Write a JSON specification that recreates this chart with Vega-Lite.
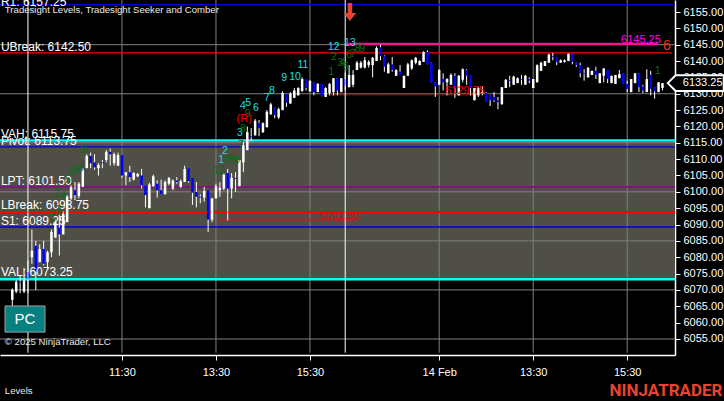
{"$schema":"https://vega.github.io/schema/vega-lite/v6.json","width":675,"height":355,"autosize":"none","padding":{"left":0,"top":0,"right":49,"bottom":46},"background":"#000000","view":{"stroke":null},"config":{"font":"Liberation Sans","scale":{"continuousPadding":0}},
"datasets":{
"band":[{"a":-3.14,"e":169.2,"top":6115.75,"bottom":6073.25}],
"gridH":[{"p":6145,"a":-3.14,"e":169.2},{"p":6130,"a":-3.14,"e":169.2},{"p":6115,"a":-3.14,"e":169.2},{"p":6100,"a":-3.14,"e":169.2},{"p":6085,"a":-3.14,"e":169.2},{"p":6070,"a":-3.14,"e":169.2},{"p":6055,"a":-3.14,"e":169.2}],
"gridV":[{"b":28,"top":6158.67,"bottom":6050.8},{"b":52,"top":6158.67,"bottom":6050.8},{"b":76,"top":6158.67,"bottom":6050.8},{"b":109,"top":6158.67,"bottom":6050.8},{"b":133,"top":6158.67,"bottom":6050.8},{"b":157,"top":6158.67,"bottom":6050.8}],
"session":[{"b":4,"top":6158.67,"bottom":6050.8},{"b":85,"top":6158.67,"bottom":6050.8}],
"levels":[{"level":"R1","p":6157.25,"a":-3.14,"e":169.2},{"level":"UBreak","p":6142.5,"a":-3.14,"e":168.4},{"level":"Pivot","p":6113.75,"a":-3.14,"e":169.2},{"level":"LPT","p":6101.5,"a":-3.14,"e":169.2},{"level":"S1","p":6089.25,"a":-3.14,"e":169.2}],
"thick":[{"level":"VAH","p":6115.75,"a":-3.14,"e":169.2},{"level":"VAL","p":6073.25,"a":-3.14,"e":169.2},{"level":"LBreak","p":6093.75,"a":-3.14,"e":169.2},{"level":"High","p":6145.25,"a":85.5,"e":164.8},{"level":"Low","p":6091.5,"a":52.3,"e":88}],
"dotted":[{"p":6129.75,"a":81.3,"e":119}],
"bars":[
{"b":0,"o":6067,"h":6070.5,"l":6065,"c":6070},{"b":1,"o":6069.5,"h":6073,"l":6069,"c":6072.5},{"b":2,"o":6072.5,"h":6074.5,"l":6069,"c":6072.25},{"b":3,"o":6069.5,"h":6076.75,"l":6069,"c":6073},{"b":4,"o":6075.5,"h":6079,"l":6069,"c":6073.25},{"b":5,"o":6080,"h":6088.5,"l":6078,"c":6082},{"b":6,"o":6083.5,"h":6085,"l":6070,"c":6075.5},{"b":7,"o":6078.5,"h":6084,"l":6078.5,"c":6082.5},{"b":8,"o":6082.5,"h":6085,"l":6077.5,"c":6078},{"b":9,"o":6078.5,"h":6082,"l":6076.5,"c":6081.5},
{"b":10,"o":6081.5,"h":6088.5,"l":6080,"c":6087.75},{"b":11,"o":6086,"h":6091.5,"l":6086,"c":6090.75},{"b":12,"o":6089,"h":6093,"l":6080.5,"c":6087},{"b":13,"o":6087,"h":6094,"l":6087,"c":6093.25},{"b":14,"o":6090.75,"h":6099,"l":6090.75,"c":6098.5},{"b":15,"o":6098,"h":6102,"l":6097.5,"c":6101.5},{"b":16,"o":6100.5,"h":6103,"l":6097.5,"c":6099},{"b":17,"o":6098.75,"h":6103,"l":6098,"c":6102.5},{"b":18,"o":6101.5,"h":6107.25,"l":6101.5,"c":6106.75},{"b":19,"o":6107.25,"h":6111.5,"l":6107.25,"c":6111},
{"b":20,"o":6111,"h":6112,"l":6107.25,"c":6108.75},{"b":21,"o":6109,"h":6111.5,"l":6106.75,"c":6107.5},{"b":22,"o":6107.25,"h":6108.75,"l":6105,"c":6108.25},{"b":23,"o":6109,"h":6109.75,"l":6107.25,"c":6108.75},{"b":24,"o":6109.75,"h":6112.75,"l":6109,"c":6112.25},{"b":25,"o":6112.25,"h":6113.25,"l":6108,"c":6111.5},{"b":26,"o":6108.75,"h":6112,"l":6108,"c":6111.5},{"b":27,"o":6108,"h":6112,"l":6108,"c":6111.25},{"b":28,"o":6111.25,"h":6111.25,"l":6104.25,"c":6105},{"b":29,"o":6105,"h":6106,"l":6102,"c":6106},
{"b":30,"o":6106,"h":6108,"l":6103,"c":6104.5},{"b":31,"o":6103.75,"h":6106,"l":6103.5,"c":6105.75},{"b":32,"o":6104.75,"h":6105.75,"l":6104.5,"c":6105.5},{"b":33,"o":6105,"h":6107,"l":6101,"c":6102},{"b":34,"o":6102,"h":6102,"l":6095.25,"c":6099},{"b":35,"o":6095,"h":6102.75,"l":6095,"c":6102.25},{"b":36,"o":6101.75,"h":6105.25,"l":6101.5,"c":6104.75},{"b":37,"o":6102.5,"h":6103.5,"l":6098.25,"c":6100.5},{"b":38,"o":6100.5,"h":6103.75,"l":6099.25,"c":6099.25},{"b":39,"o":6099.25,"h":6103.5,"l":6099.25,"c":6103},
{"b":40,"o":6102.5,"h":6104.5,"l":6102,"c":6104.25},{"b":41,"o":6101,"h":6103.75,"l":6100.5,"c":6103.5},{"b":42,"o":6103.5,"h":6104.5,"l":6102.5,"c":6103},{"b":43,"o":6101.5,"h":6103.75,"l":6101.25,"c":6103.25},{"b":44,"o":6103,"h":6108,"l":6103,"c":6107},{"b":45,"o":6107.25,"h":6107.25,"l":6102.75,"c":6103.25},{"b":46,"o":6104.25,"h":6104.25,"l":6096,"c":6099.75},{"b":47,"o":6100,"h":6103,"l":6095.25,"c":6098.5},{"b":48,"o":6098.5,"h":6099.25,"l":6096.5,"c":6098.25},{"b":49,"o":6098.25,"h":6101.5,"l":6097,"c":6100.25},
{"b":50,"o":6100.5,"h":6100.5,"l":6087.75,"c":6091.5},{"b":51,"o":6091.5,"h":6098,"l":6090.75,"c":6098},{"b":52,"o":6098,"h":6102.5,"l":6098,"c":6101.75},{"b":53,"o":6100.5,"h":6103,"l":6098.5,"c":6101.25},{"b":54,"o":6101,"h":6105.75,"l":6100.5,"c":6105.25},{"b":55,"o":6105.75,"h":6107,"l":6091.25,"c":6101},{"b":56,"o":6101,"h":6105.75,"l":6098,"c":6104.25},{"b":57,"o":6104.25,"h":6106,"l":6100,"c":6104},{"b":58,"o":6101.75,"h":6109.75,"l":6101.75,"c":6109.75},{"b":59,"o":6109,"h":6115.25,"l":6106,"c":6114.25},
{"b":60,"o":6112.75,"h":6120,"l":6112.75,"c":6118.25},{"b":61,"o":6117,"h":6119.5,"l":6115.5,"c":6116.75},{"b":62,"o":6117.25,"h":6122.25,"l":6117.25,"c":6121.75},{"b":63,"o":6121,"h":6122,"l":6117,"c":6119.5},{"b":64,"o":6118.25,"h":6121.25,"l":6118,"c":6121},{"b":65,"o":6119.75,"h":6125,"l":6119.75,"c":6124.5},{"b":66,"o":6123.75,"h":6127.25,"l":6123.5,"c":6126.75},{"b":67,"o":6125.75,"h":6125.75,"l":6122.5,"c":6123.5},{"b":68,"o":6122.75,"h":6125.75,"l":6122.25,"c":6125.25},{"b":69,"o":6125,"h":6130.75,"l":6125,"c":6130.25},
{"b":70,"o":6130,"h":6130,"l":6126,"c":6127.25},{"b":71,"o":6127,"h":6130.5,"l":6127,"c":6130},{"b":72,"o":6128.75,"h":6131.75,"l":6128.75,"c":6131},{"b":73,"o":6129.5,"h":6132,"l":6129.5,"c":6131.75},{"b":74,"o":6130.75,"h":6135,"l":6130.75,"c":6134.5},{"b":75,"o":6134.5,"h":6134.5,"l":6131,"c":6131.75},{"b":76,"o":6130.75,"h":6134,"l":6130.5,"c":6134},{"b":77,"o":6133.5,"h":6133.5,"l":6129.5,"c":6130.5},{"b":78,"o":6130.5,"h":6133.25,"l":6130.5,"c":6133},{"b":79,"o":6133,"h":6133,"l":6129.25,"c":6129.25},
{"b":80,"o":6129,"h":6132,"l":6129,"c":6131.75},{"b":81,"o":6130.25,"h":6133.25,"l":6129.5,"c":6133},{"b":82,"o":6130.5,"h":6134.75,"l":6129.5,"c":6134.75},{"b":83,"o":6134.75,"h":6134.75,"l":6129.5,"c":6131},{"b":84,"o":6130.5,"h":6134.75,"l":6130.5,"c":6134.75},{"b":85,"o":6134.5,"h":6136.5,"l":6131,"c":6132.5},{"b":86,"o":6132,"h":6138.75,"l":6132,"c":6135.75},{"b":87,"o":6132.75,"h":6137.25,"l":6132,"c":6135.75},{"b":88,"o":6137.25,"h":6140,"l":6137.25,"c":6139.5},{"b":89,"o":6138,"h":6140,"l":6137.75,"c":6139.5},
{"b":90,"o":6138,"h":6141.25,"l":6137.75,"c":6140.25},{"b":91,"o":6138.75,"h":6140.25,"l":6138,"c":6139.75},{"b":92,"o":6138.75,"h":6141.25,"l":6135,"c":6141},{"b":93,"o":6140,"h":6144.5,"l":6140,"c":6144},{"b":94,"o":6144.25,"h":6145,"l":6140.25,"c":6141.5},{"b":95,"o":6141.5,"h":6141.75,"l":6136.75,"c":6138.25},{"b":96,"o":6136.25,"h":6139.5,"l":6136.25,"c":6139},{"b":97,"o":6139,"h":6141.25,"l":6136.75,"c":6137.25},{"b":98,"o":6135.5,"h":6137.5,"l":6135.5,"c":6137.25},{"b":99,"o":6136.75,"h":6138.75,"l":6135.75,"c":6135.75},
{"b":100,"o":6131.75,"h":6135.5,"l":6131.75,"c":6135.5},{"b":101,"o":6135.5,"h":6139.5,"l":6135.5,"c":6139},{"b":102,"o":6137.75,"h":6140.5,"l":6137.25,"c":6140.25},{"b":103,"o":6139.5,"h":6141.25,"l":6139,"c":6141},{"b":104,"o":6138.75,"h":6140.25,"l":6138.75,"c":6140},{"b":105,"o":6139.75,"h":6143,"l":6139.75,"c":6142.75},{"b":106,"o":6142.75,"h":6143.25,"l":6139,"c":6139},{"b":107,"o":6139.5,"h":6139.5,"l":6133.5,"c":6133.5},{"b":108,"o":6133.5,"h":6133.5,"l":6129,"c":6132.25},{"b":109,"o":6132.75,"h":6137.5,"l":6132.75,"c":6137.25},
{"b":110,"o":6134.5,"h":6136.25,"l":6131,"c":6133.5},{"b":111,"o":6133.5,"h":6134.75,"l":6129.5,"c":6134.5},{"b":112,"o":6132.75,"h":6136.25,"l":6132.75,"c":6135.75},{"b":113,"o":6135.5,"h":6136.25,"l":6128.75,"c":6131.75},{"b":114,"o":6129.5,"h":6135.75,"l":6129.5,"c":6135.5},{"b":115,"o":6134.25,"h":6137.75,"l":6133.5,"c":6137.5},{"b":116,"o":6137.25,"h":6137.5,"l":6132.75,"c":6135.5},{"b":117,"o":6135.75,"h":6135.75,"l":6129.5,"c":6131.75},{"b":118,"o":6128,"h":6131.75,"l":6128,"c":6131.75},{"b":119,"o":6129.5,"h":6132,"l":6129,"c":6131.75},
{"b":120,"o":6130,"h":6132.25,"l":6129.5,"c":6130.5},{"b":121,"o":6130.25,"h":6130.5,"l":6127.5,"c":6127.5},{"b":122,"o":6129.5,"h":6129.5,"l":6126.25,"c":6128},{"b":123,"o":6129,"h":6130.5,"l":6127.5,"c":6128},{"b":124,"o":6128,"h":6129,"l":6125.25,"c":6127.5},{"b":125,"o":6126.75,"h":6132,"l":6126.75,"c":6132},{"b":126,"o":6131.75,"h":6134.5,"l":6131.75,"c":6134.25},{"b":127,"o":6134.25,"h":6135.5,"l":6132,"c":6134},{"b":128,"o":6132.75,"h":6135.5,"l":6132.75,"c":6135.25},{"b":129,"o":6133.25,"h":6135,"l":6133.25,"c":6134.75},
{"b":130,"o":6134.5,"h":6135.75,"l":6132.75,"c":6134.25},{"b":131,"o":6132.75,"h":6135.75,"l":6132.75,"c":6135.5},{"b":132,"o":6134.5,"h":6135,"l":6133.25,"c":6134},{"b":133,"o":6131.75,"h":6134.5,"l":6131.75,"c":6134.5},{"b":134,"o":6133.5,"h":6139,"l":6133.5,"c":6138.75},{"b":135,"o":6137,"h":6139.75,"l":6137,"c":6139.5},{"b":136,"o":6138.5,"h":6140,"l":6138.5,"c":6140},{"b":137,"o":6139.5,"h":6142.25,"l":6139.5,"c":6142},{"b":138,"o":6141.5,"h":6142.5,"l":6140.25,"c":6141.25},{"b":139,"o":6141.25,"h":6141.25,"l":6138.75,"c":6139.75},
{"b":140,"o":6139.5,"h":6140.5,"l":6139.5,"c":6140.25},{"b":141,"o":6139.75,"h":6140.5,"l":6139.5,"c":6140.25},{"b":142,"o":6140,"h":6142.25,"l":6140,"c":6142.25},{"b":143,"o":6142.25,"h":6142.25,"l":6139,"c":6139.75},{"b":144,"o":6139.5,"h":6139.5,"l":6138.25,"c":6138.75},{"b":145,"o":6138.75,"h":6139.5,"l":6135,"c":6136.25},{"b":146,"o":6136.25,"h":6137.5,"l":6134,"c":6136},{"b":147,"o":6135,"h":6138,"l":6135,"c":6138},{"b":148,"o":6135.75,"h":6137,"l":6135.75,"c":6137},{"b":149,"o":6137,"h":6138.25,"l":6134.5,"c":6135.75},
{"b":150,"o":6133.25,"h":6136.25,"l":6133.25,"c":6136.25},{"b":151,"o":6135.5,"h":6137.75,"l":6133.5,"c":6137.75},{"b":152,"o":6137.25,"h":6137.25,"l":6133.25,"c":6134.5},{"b":153,"o":6133.25,"h":6135.5,"l":6133.25,"c":6135.5},{"b":154,"o":6133,"h":6135.75,"l":6133,"c":6135.75},{"b":155,"o":6134.75,"h":6137.25,"l":6134.75,"c":6136},{"b":156,"o":6136.25,"h":6136.25,"l":6133,"c":6133},{"b":157,"o":6133,"h":6134,"l":6130.5,"c":6131.5},{"b":158,"o":6130.5,"h":6134.5,"l":6130.5,"c":6134.5},{"b":159,"o":6133.25,"h":6136.25,"l":6133.25,"c":6136.25},
{"b":160,"o":6136.25,"h":6136.25,"l":6130.5,"c":6132},{"b":161,"o":6132.25,"h":6132.75,"l":6130.25,"c":6131},{"b":162,"o":6130.5,"h":6137.5,"l":6130.5,"c":6134.5},{"b":163,"o":6135.75,"h":6137,"l":6129.5,"c":6131.5},{"b":164,"o":6132,"h":6132,"l":6128.5,"c":6130.75},{"b":165,"o":6130.5,"h":6133.5,"l":6130.5,"c":6133.5},{"b":166,"o":6131.75,"h":6133.25,"l":6131,"c":6133.25}],
"white":[{"t":"R1: 6157.25","b":-2.9,"p":6158.2},{"t":"UBreak: 6142.50","b":-2.9,"p":6144.3},{"t":"VAH: 6115.75","b":-2.9,"p":6117.7},{"t":"Pivot: 6113.75","b":-2.9,"p":6115.5},{"t":"LPT: 6101.50","b":-2.9,"p":6103.3},{"t":"LBreak: 6093.75","b":-2.9,"p":6096},{"t":"S1: 6089.25","b":-2.9,"p":6091},{"t":"VAL: 6073.25","b":-2.9,"p":6075.5}],
"small":[{"t":"Tradesight Levels, Tradesight Seeker and Comber","b":-1.9,"p":6155.5},{"t":"© 2025 NinjaTrader, LLC","b":-1.9,"p":6054.1},{"t":"Levels","b":-1.9,"p":6039.1}],
"cyan":[{"t":"1","b":53.3,"p":6109.7},{"t":"2","b":54.3,"p":6112.5},{"t":"3","b":58.1,"p":6118},{"t":"4","b":58.9,"p":6126.3},{"t":"5","b":60.2,"p":6127.2},{"t":"6","b":62.2,"p":6125.6},{"t":"7","b":65,"p":6128.7},{"t":"8","b":66.3,"p":6130.8},{"t":"9","b":69.4,"p":6134.8},{"t":"10","b":72.2,"p":6135.1},{"t":"11","b":74.2,"p":6138.8},{"t":"12","b":82.1,"p":6144.3},{"t":"13","b":86.2,"p":6145.5}],
"green":[{"t":"9","b":18.3,"p":6112.8},{"t":"6","b":15.2,"p":6106},{"t":"7","b":16.3,"p":6106.4},{"t":"8","b":17.3,"p":6107},{"t":"5","b":14.2,"p":6103.5},{"t":"2","b":11.4,"p":6099.3},{"t":"4","b":12.9,"p":6098.7},{"t":"3","b":11.9,"p":6094.5},{"t":"1","b":10.4,"p":6092},{"t":"12","b":52.8,"p":6106.4},{"t":"3","b":54.6,"p":6109.7},{"t":"4","b":55.6,"p":6110.3},{"t":"5","b":56.4,"p":6109.7},{"t":"6","b":57.4,"p":6109.7},{"t":"7","b":58.4,"p":6114.3},{"t":"8","b":58.9,"p":6119.2},{"t":"9","b":60.1,"p":6123.8},{"t":"1","b":81.4,"p":6136.7},{"t":"2","b":82.1,"p":6141.2},{"t":"3","b":83.7,"p":6139.4},{"t":"4","b":84.4,"p":6139.4},{"t":"5","b":85.2,"p":6138.2},{"t":"6","b":86,"p":6141.9},{"t":"7","b":87,"p":6142.2},{"t":"8","b":88.2,"p":6143.7},{"t":"9","b":89.3,"p":6143.7},{"t":"1","b":164.8,"p":6137}],
"red":[{"t":"(R)","b":59.2,"p":6122.3},{"t":"6129.75","b":115.6,"p":6130.8},{"t":"6091.50","b":83.7,"p":6092.6}],
"pc":[{"a":-1.86,"e":8.35,"top":6065.1,"bottom":6057.1,"b":3.2,"p":6061.1,"t":"PC"}],
"marker":[{"b":174.5,"p":6133.25,"t":"6133.25"}],
"arrow":[{"b":86.2,"p":6155}]
},
"encoding":{"x":{"field":"b","type":"quantitative","title":null,"scale":{"domain":[-3.14,169.2],"nice":false,"zero":false},"axis":{"orient":"bottom","values":[28,52,76,109,133,157],"labelExpr":"{28:'11:30',52:'13:30',76:'15:30',109:'14 Feb',133:'13:30',157:'15:30'}[datum.value]","grid":false,"domainColor":"#ffffff","domainWidth":1.5,"tickColor":"#ffffff","tickSize":5,"labelColor":"#ffffff","labelFontSize":11,"labelFont":"Liberation Sans","labelPadding":6,"labelOverlap":false,"labelFlush":false,"tickCount":12}},"y":{"field":"p","type":"quantitative","title":null,"scale":{"domain":[6050.1,6158.67],"nice":false,"zero":false},"axis":{"orient":"right","values":[6055,6060,6065,6070,6075,6080,6085,6090,6095,6100,6105,6110,6115,6120,6125,6130,6135,6140,6145,6150,6155],"tickCount":42,"format":".2f","grid":false,"domainColor":"#ffffff","domainWidth":1.5,"tickColor":"#ffffff","tickSize":5,"labelColor":"#ffffff","labelFontSize":11,"labelFont":"Liberation Sans","labelPadding":3,"labelOverlap":false}}},
"layer":[
{"data":{"name":"band"},"mark":{"type":"rect","color":"#4f4e47"},"encoding":{"x":{"field":"a","type":"quantitative","scale":{"domain":[-3.14,169.2],"nice":false,"zero":false},"title":null},"x2":{"field":"e"},"y":{"field":"top","type":"quantitative","scale":{"domain":[6050.1,6158.67],"nice":false,"zero":false},"title":null},"y2":{"field":"bottom"}}},
{"data":{"name":"gridH"},"mark":{"type":"rule","color":"#808080","strokeWidth":1},"encoding":{"x":{"field":"a","type":"quantitative","scale":{"domain":[-3.14,169.2],"nice":false,"zero":false},"title":null},"x2":{"field":"e"},"y":{"field":"p","type":"quantitative"}}},
{"data":{"name":"gridV"},"mark":{"type":"rule","color":"#808080","strokeWidth":1},"encoding":{"x":{"field":"b","type":"quantitative"},"y":{"field":"top","type":"quantitative","scale":{"domain":[6050.1,6158.67],"nice":false,"zero":false},"title":null},"y2":{"field":"bottom"}}},
{"data":{"name":"levels"},"mark":{"type":"rule","strokeWidth":1.4},"encoding":{"x":{"field":"a","type":"quantitative","scale":{"domain":[-3.14,169.2],"nice":false,"zero":false},"title":null},"x2":{"field":"e"},"y":{"field":"p","type":"quantitative"},"color":{"field":"level","type":"nominal","legend":null,"scale":{"domain":["R1","UBreak","VAH","Pivot","LPT","LBreak","S1","VAL","High","Low"],"range":["#0000e0","#ff0000","#00ffff","#0000e0","#900090","#ff0000","#0000e0","#00ffff","#ff1090","#a52a2a"]}}}},
{"data":{"name":"thick"},"mark":{"type":"rule","strokeWidth":2.4},"encoding":{"x":{"field":"a","type":"quantitative","scale":{"domain":[-3.14,169.2],"nice":false,"zero":false},"title":null},"x2":{"field":"e"},"y":{"field":"p","type":"quantitative"},"color":{"field":"level","type":"nominal","legend":null,"scale":{"domain":["R1","UBreak","VAH","Pivot","LPT","LBreak","S1","VAL","High","Low"],"range":["#0000e0","#ff0000","#00ffff","#0000e0","#900090","#ff0000","#0000e0","#00ffff","#ff1090","#a52a2a"]}}}},
{"data":{"name":"dotted"},"mark":{"type":"rule","strokeWidth":2,"color":"#8b1a1a","strokeDash":[2,1]},"encoding":{"x":{"field":"a","type":"quantitative","scale":{"domain":[-3.14,169.2],"nice":false,"zero":false},"title":null},"x2":{"field":"e"},"y":{"field":"p","type":"quantitative"}}},
{"data":{"name":"bars"},"mark":{"type":"rule","color":"#ffffff","strokeWidth":1},"encoding":{"y":{"field":"h","type":"quantitative","scale":{"domain":[6050.1,6158.67],"nice":false,"zero":false},"title":null},"y2":{"field":"l"}}},
{"data":{"name":"bars"},"mark":{"type":"bar","size":2.5,"orient":"vertical"},"encoding":{"y":{"field":"o","type":"quantitative","scale":{"domain":[6050.1,6158.67],"nice":false,"zero":false},"title":null},"y2":{"field":"c"},"color":{"condition":{"test":"datum.c>=datum.o","value":"#ffffff"},"value":"#0000ff"}}},
{"data":{"name":"session"},"mark":{"type":"rule","color":"#ffffff","strokeWidth":1},"encoding":{"x":{"field":"b","type":"quantitative"},"y":{"field":"top","type":"quantitative","scale":{"domain":[6050.1,6158.67],"nice":false,"zero":false},"title":null},"y2":{"field":"bottom"}}},
{"data":{"name":"white"},"mark":{"type":"text","align":"left","baseline":"middle","color":"#ffffff","fontSize":12},"encoding":{"text":{"field":"t"}}},
{"data":{"name":"small"},"mark":{"type":"text","align":"left","baseline":"middle","color":"#e8e8e8","fontSize":9.6},"encoding":{"text":{"field":"t"}}},
{"data":{"name":"cyan"},"mark":{"type":"text","align":"center","baseline":"middle","color":"#19dfe6","fontSize":10.5},"encoding":{"text":{"field":"t"}}},
{"data":{"name":"green"},"mark":{"type":"text","align":"center","baseline":"middle","color":"#0a7010","fontSize":10.5},"encoding":{"text":{"field":"t"}}},
{"data":{"name":"red"},"mark":{"type":"text","align":"center","baseline":"middle","color":"#f00000","fontSize":11},"encoding":{"text":{"field":"t"}}},
{"data":{"values":[{"t":"6145.25","b":160.5,"p":6146.4}]},"mark":{"type":"text","align":"center","baseline":"middle","color":"#ff00ff","fontSize":11},"encoding":{"text":{"field":"t"}}},
{"data":{"values":[{"t":"6","b":167.1,"p":6144.6}]},"mark":{"type":"text","align":"center","baseline":"middle","color":"#f03010","fontSize":14},"encoding":{"text":{"field":"t"}}},
{"data":{"name":"pc"},"mark":{"type":"rect","color":"#078080","stroke":"#a0a0a0","strokeWidth":1},"encoding":{"x":{"field":"a","type":"quantitative","scale":{"domain":[-3.14,169.2],"nice":false,"zero":false},"title":null},"x2":{"field":"e"},"y":{"field":"top","type":"quantitative","scale":{"domain":[6050.1,6158.67],"nice":false,"zero":false},"title":null},"y2":{"field":"bottom"}}},
{"data":{"name":"pc"},"mark":{"type":"text","align":"center","baseline":"middle","color":"#ffffff","fontSize":15},"encoding":{"text":{"field":"t"}}},
{"data":{"name":"arrow"},"mark":{"type":"point","shape":"M -0.25 -1 L 0.25 -1 L 0.25 0.1 L 0.7 0.1 L 0 1 L -0.7 0.1 L -0.25 0.1 Z","size":324,"filled":true,"color":"#e8432e","opacity":1}},
{"data":{"name":"marker"},"mark":{"type":"point","shape":"M -1 0 L -0.72 -0.28 L 1 -0.28 L 1 0.28 L -0.72 0.28 Z","size":3136,"filled":true,"fill":"#000000","stroke":"#ffffff","strokeWidth":2,"opacity":1}},
{"data":{"name":"marker"},"mark":{"type":"text","align":"left","baseline":"middle","color":"#ffffff","fontSize":11,"dx":-13},"encoding":{"text":{"field":"t"}}},
{"data":{"values":[{"t":"NINJATRADER","b":166.9,"p":6039.1}]},"mark":{"type":"text","align":"center","baseline":"middle","color":"#e8432e","fontSize":17,"fontWeight":"bold","font":"Roboto"},"encoding":{"text":{"field":"t"}}}
]}
